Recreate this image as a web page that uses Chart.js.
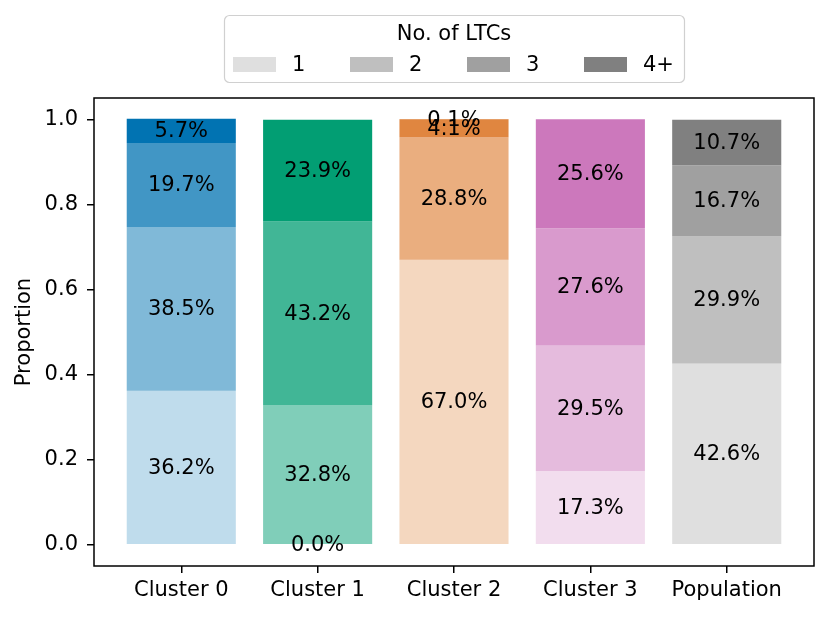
<!DOCTYPE html>
<html>
<head>
<meta charset="utf-8">
<script src="https://cdn.jsdelivr.net/npm/chart.js@4.4.0/dist/chart.umd.min.js"></script>
<style>
  html, body { margin: 0; padding: 0; background: #fff; }
</style>
</head>
<body>
<canvas id="ltcChart" width="830" height="618"></canvas>
<script>
const categories = ["Cluster 0", "Cluster 1", "Cluster 2", "Cluster 3", "Population"];
const ltcLevels = ["1", "2", "3", "4+"];
// percentage of people in each group with 1, 2, 3, 4+ long-term conditions
const pctOne = [36.2, 0.0, 67.0, 17.3, 42.6];
const pctTwo = [38.5, 32.8, 28.8, 29.5, 29.9];
const pctThree = [19.7, 43.2, 4.1, 27.6, 16.7];
const pctFourPlus = [5.7, 23.9, 0.1, 25.6, 10.7];
const yTicks = [0.0, 0.2, 0.4, 0.6, 0.8, 1.0];

const baseColors = ["#0173b2", "#029e73", "#d55e00", "#cc78bc", "#808080"];
const levelAlphas = [0.25, 0.5, 0.75, 1.0];
const legendColor = "#808080";

const FONT = "'DejaVu Sans', sans-serif";
const FS = 21;

function rgba(hex, a) {
  const n = parseInt(hex.slice(1), 16);
  return `rgba(${(n >> 16) & 255}, ${(n >> 8) & 255}, ${n & 255}, ${a})`;
}

const levelValues = [pctOne, pctTwo, pctThree, pctFourPlus];

const datasets = levelValues.map((vals, li) => ({
  label: ltcLevels[li],
  data: vals.map((v, i) => ({ x: i, y: v / 100 })),
  pct: vals,
  backgroundColor: baseColors.map(c => rgba(c, levelAlphas[li])),
  borderWidth: 0,
  categoryPercentage: 1.0,
  barPercentage: 0.8
}));

const overlayPlugin = {
  id: "overlay",
  afterDraw(chart) {
    const { ctx, chartArea: a } = chart;
    ctx.save();

    // axes frame
    ctx.strokeStyle = "#000";
    ctx.lineWidth = 1.5;
    ctx.strokeRect(a.left, a.top, a.right - a.left, a.bottom - a.top);

    // segment labels
    ctx.fillStyle = "#000";
    ctx.font = `${FS}px ${FONT}`;
    ctx.textAlign = "center";
    ctx.textBaseline = "middle";
    chart.data.datasets.forEach((ds, di) => {
      chart.getDatasetMeta(di).data.forEach((bar, i) => {
        ctx.fillText(ds.pct[i].toFixed(1) + "%", bar.x, (bar.y + bar.base) / 2 + 1);
      });
    });

    // legend
    const cx = (a.left + a.right) / 2;
    const boxW = 460, boxH = 67, boxTop = 15;
    const boxLeft = Math.round(cx - boxW / 2);
    ctx.strokeStyle = "#d0d0d0";
    ctx.lineWidth = 1.2;
    ctx.beginPath();
    ctx.roundRect(boxLeft + 0.5, boxTop + 0.5, boxW, boxH, 5);
    ctx.stroke();

    ctx.fillStyle = "#000";
    ctx.textAlign = "center";
    ctx.fillText("No. of LTCs", cx, 35);

    ctx.textAlign = "left";
    ltcLevels.forEach((lvl, k) => {
      const sx = boxLeft + 9 + k * 117;
      ctx.fillStyle = rgba(legendColor, levelAlphas[k]);
      ctx.fillRect(sx, 57, 43, 15);
      ctx.fillStyle = "#000";
      ctx.fillText(lvl, sx + 43 + 16, 66);
    });

    ctx.restore();
  }
};

new Chart(document.getElementById("ltcChart"), {
  type: "bar",
  data: { datasets },
  options: {
    responsive: false,
    animation: false,
    layout: { padding: { top: 98, right: 16, bottom: 0, left: 0 } },
    plugins: {
      legend: { display: false },
      tooltip: { enabled: false }
    },
    scales: {
      x: {
        type: "linear",
        stacked: true,
        min: -0.64,
        max: 4.64,
        offset: false,
        border: { display: false },
        grid: { offset: false, drawOnChartArea: false, drawTicks: true, tickLength: 7, tickColor: "#000", lineWidth: 1.5 },
        afterBuildTicks: axis => { axis.ticks = categories.map((c, i) => ({ value: i })); },
        afterFit: axis => { axis.height = 52; },
        ticks: {
          color: "#000",
          font: { family: FONT, size: FS },
          padding: 5,
          maxRotation: 0,
          autoSkip: false,
          callback: v => categories[v]
        }
      },
      y: {
        stacked: true,
        min: -0.05,
        max: 1.05,
        border: { display: false },
        grid: { drawOnChartArea: false, drawTicks: true, tickLength: 7, tickColor: "#000", lineWidth: 1.5 },
        afterBuildTicks: axis => { axis.ticks = yTicks.map(v => ({ value: v })); },
        afterFit: axis => { axis.width = 94; },
        ticks: {
          color: "#000",
          font: { family: FONT, size: FS },
          padding: 9,
          callback: v => Number(v).toFixed(1)
        },
        title: {
          display: true,
          text: "Proportion",
          color: "#000",
          font: { family: FONT, size: FS },
          padding: { top: 12, bottom: 0 }
        }
      }
    }
  },
  plugins: [overlayPlugin]
});
</script>
</body>
</html>
